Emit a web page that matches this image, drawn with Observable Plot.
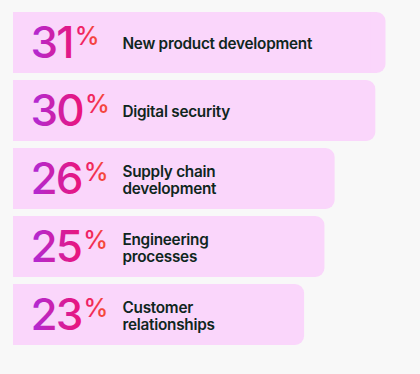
<!DOCTYPE html>
<html>
<head>
<meta charset="utf-8">
<script src="https://cdn.jsdelivr.net/npm/d3@7"></script>
<script src="https://cdn.jsdelivr.net/npm/@observablehq/plot@0.6"></script>
<style>
  html, body { margin: 0; padding: 0; background: #f8f8f8; }
  #chart svg { display: block; }
</style>
</head>
<body>
<div id="chart"></div>
<script>
const categories = [
  "New product development",
  "Digital security",
  "Supply chain\ndevelopment",
  "Engineering\nprocesses",
  "Customer\nrelationships"
];
const values = [31, 30, 26, 25, 23];
const xStart = -5.6;

const data = categories.map((c, i) => ({ category: c, value: values[i] }));

const chart = Plot.plot({
  width: 420,
  height: 374,
  margin: 0,
  style: { background: "#f8f8f8", fontFamily: "Inter, sans-serif", overflow: "visible" },
  x: { domain: [xStart, 31], range: [13, 385.5], axis: null },
  y: { domain: categories, range: [11, 346], paddingInner: 0.11, paddingOuter: 0, axis: null },
  marks: [
    Plot.barX(data, { x1: () => xStart, x2: "value", y: "category", fill: "#fad6fb", rx: 9 }),
    Plot.barX(data, { x1: () => xStart, x2: d => d.value - 1.5, y: "category", fill: "#fad6fb" }),
    Plot.text(data, {
      x: () => xStart, y: "category", dx: 17, dy: 1,
      text: d => String(d.value) + "%",
      textAnchor: "start", fontSize: 44, fontWeight: 500,
      fill: "url(#numgrad)", className: "num"
    }),
    Plot.text(data, {
      x: () => xStart, y: "category", dx: 109, dy: 1,
      text: "category", textAnchor: "start", lineAnchor: "middle",
      lineHeight: 1.08, fontSize: 15.3, fontWeight: 600, fill: "#0f2620",
      className: "lbl"
    })
  ]
});

// gradient + superscript percent
const svgns = "http://www.w3.org/2000/svg";
const defs = document.createElementNS(svgns, "defs");
defs.innerHTML = `<linearGradient id="numgrad" x1="0" x2="1" y1="0" y2="0">
  <stop offset="0" stop-color="#ae2bd8"/>
  <stop offset="0.66" stop-color="#ec1578"/>
  <stop offset="0.8" stop-color="#f22c55"/>
  <stop offset="1" stop-color="#f5552f"/>
</linearGradient>`;
chart.insertBefore(defs, chart.firstChild);
chart.querySelectorAll("g.num text").forEach(t => {
  const s = t.textContent;
  const n = s.replace("%", "");
  t.textContent = n;
  t.setAttribute("letter-spacing", "-1.8");
  const ts = document.createElementNS(svgns, "tspan");
  ts.textContent = "%";
  ts.setAttribute("font-size", "25");
  ts.setAttribute("font-weight", "500");
  ts.setAttribute("letter-spacing", "0");
  ts.setAttribute("dx", "2");
  ts.setAttribute("dy", "-13");
  t.appendChild(ts);
});
chart.querySelectorAll("g.lbl text").forEach(t => t.setAttribute("letter-spacing", "-0.25"));
document.getElementById("chart").appendChild(chart);
</script>
</body>
</html>
